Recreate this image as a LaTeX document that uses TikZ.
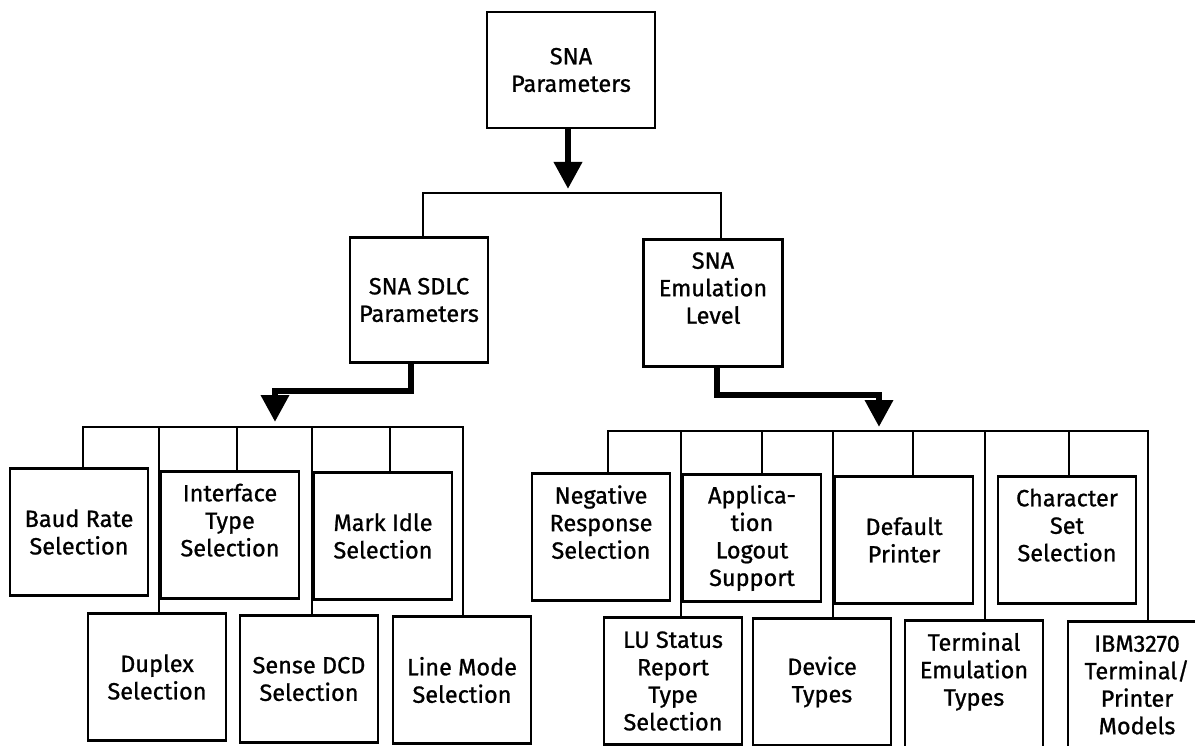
\documentclass[tikz,border=0pt]{standalone}
\usepackage{fontspec}
\newfontfamily\boxfont{Fira Sans}[FakeBold=0.9]
\usetikzlibrary{arrows.meta}

\tikzset{
  box/.style={draw, line width=2.8pt, align=center, inner sep=0pt,
    minimum width=138, minimum height=127,
    font=\boxfont\fontsize{23.5}{27.5}\selectfont},
  raised/.style={text depth=30pt},
  bus/.style={line width=2pt},
  flow/.style={line width=6.5pt, -{Triangle[width=27pt,length=27pt]}}
}

\begin{document}
\begin{tikzpicture}[x=1pt, y=-1pt]
    \useasboundingbox (0,0) rectangle (1195,746);
    \clip (0,0) rectangle (1195,746);

    % Top level
    \node[box, minimum width=168, minimum height=116] (sna) at (571,70) {SNA\\Parameters};
    \coordinate (topbus) at (568,193);
    \draw[flow] (sna.south -| topbus) -- ([yshift=4]topbus);

    % Second level
    \node[box, minimum height=125] (sdlc) at (419,300) {SNA SDLC\\Parameters};
    \node[box, raised, minimum width=139] (emul) at (713,303) {SNA\\Emulation\\Level};
    \draw[bus] ([xshift=4]sdlc.north) |- (topbus) -| ([xshift=8]emul.north);

    % Arrows down to the two buses
    \coordinate (lbus) at (275,427);
    \coordinate (rbus) at (879,431);
    \draw[flow] ([xshift=-8]sdlc.south) -- ++(0,27) -| ([yshift=5]lbus);
    \draw[flow] ([xshift=4]emul.south) -- ++(0,27) -| ([yshift=4]rbus);

    % SDLC parameters
    \node[box] (baud) at (79,532) {Baud Rate\\Selection};
    \node[box, raised] (iface) at (230,535) {Interface\\Type\\Selection};
    \node[box] (mark) at (383,536) {Mark Idle\\Selection};
    \node[box] (duplex) at (157,677) {Duplex\\Selection};
    \node[box] (sense) at (309,679) {Sense DCD\\Selection};
    \node[box] (lmode) at (462,680) {Line Mode\\Selection};
    \draw[bus] ([xshift=4]baud.north) |- (lbus) -| ([xshift=1]lmode.north);
    \foreach \n/\d in {duplex/2, iface/7, sense/3, mark/7}
        \draw[bus] ([xshift=\d]\n.north) -- ([xshift=\d]\n.north |- lbus);

    % Emulation level
    \node[box, raised] (neg) at (601,537) {Negative\\Response\\Selection};
    \node[box] (appl) at (752,538) {Applica-\\tion\\Logout\\Support};
    \node[box] (dflt) at (904,540) {Default\\Printer};
    \node[box, raised] (charset) at (1067,540) {Character\\Set\\Selection};
    \node[box] (lustat) at (673,681) {LU Status\\Report\\Type\\Selection};
    \node[box] (device) at (822,682) {Device\\Types};
    \node[box, raised] (termem) at (974,684) {Terminal\\Emulation\\Types};
    \node[box] (ibm) at (1137,685) {IBM3270\\Terminal/\\Printer\\Models};
    \draw[bus] ([xshift=7]neg.north) |- (rbus) -| ([xshift=11]ibm.north);
    \foreach \n/\d in {lustat/8, appl/10, device/11, dflt/9, termem/11, charset/2}
        \draw[bus] ([xshift=\d]\n.north) -- ([xshift=\d]\n.north |- rbus);
\end{tikzpicture}
\end{document}
